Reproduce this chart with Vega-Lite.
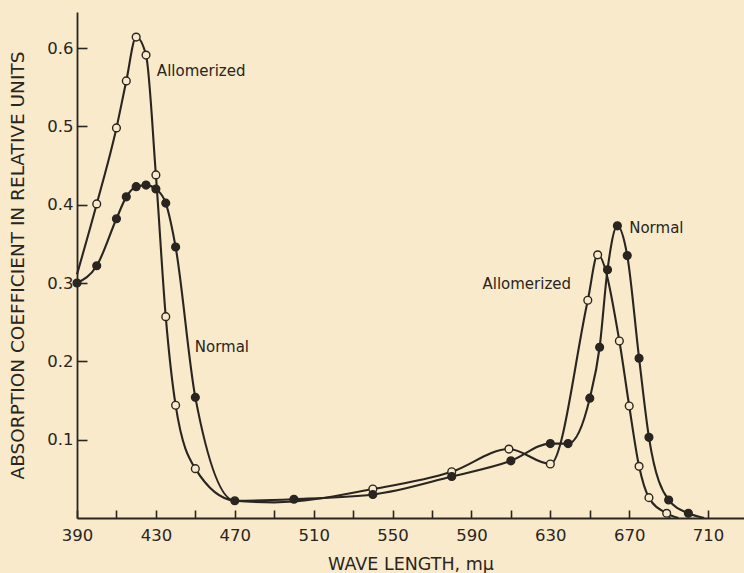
{
  "$schema": "https://vega.github.io/schema/vega-lite/v6.json",
  "width": 667,
  "height": 506,
  "autosize": {"type": "none"},
  "padding": {"left": 77, "top": 12, "right": 0, "bottom": 55},
  "background": "#f8eacb",
  "config": {
    "view": {"stroke": null},
    "font": "DejaVu Sans",
    "axis": {
      "grid": false,
      "domainColor": "#2a2520",
      "domainWidth": 1.8,
      "tickColor": "#2a2520",
      "tickWidth": 1.6,
      "labelColor": "#2a2520",
      "titleColor": "#2a2520",
      "labelFont": "DejaVu Sans",
      "titleFont": "DejaVu Sans",
      "labelFontSize": 16.5,
      "titleFontSize": 17.5,
      "titleFontWeight": "normal"
    }
  },
  "datasets": {
    "curves": [
      {"wl": 390, "abs": 0.311, "series": "Allomerized", "observed": false},
      {"wl": 400, "abs": 0.401, "series": "Allomerized", "observed": true},
      {"wl": 410, "abs": 0.498, "series": "Allomerized", "observed": true},
      {"wl": 415, "abs": 0.558, "series": "Allomerized", "observed": true},
      {"wl": 420, "abs": 0.614, "series": "Allomerized", "observed": true},
      {"wl": 425, "abs": 0.591, "series": "Allomerized", "observed": true},
      {"wl": 430, "abs": 0.438, "series": "Allomerized", "observed": true},
      {"wl": 435, "abs": 0.257, "series": "Allomerized", "observed": true},
      {"wl": 440, "abs": 0.144, "series": "Allomerized", "observed": true},
      {"wl": 450, "abs": 0.063, "series": "Allomerized", "observed": true},
      {"wl": 470, "abs": 0.022, "series": "Allomerized", "observed": false},
      {"wl": 490, "abs": 0.020, "series": "Allomerized", "observed": false},
      {"wl": 540, "abs": 0.037, "series": "Allomerized", "observed": true},
      {"wl": 580, "abs": 0.059, "series": "Allomerized", "observed": true},
      {"wl": 609, "abs": 0.088, "series": "Allomerized", "observed": true},
      {"wl": 630, "abs": 0.069, "series": "Allomerized", "observed": true},
      {"wl": 649, "abs": 0.278, "series": "Allomerized", "observed": true},
      {"wl": 654, "abs": 0.336, "series": "Allomerized", "observed": true},
      {"wl": 665, "abs": 0.226, "series": "Allomerized", "observed": true},
      {"wl": 670, "abs": 0.143, "series": "Allomerized", "observed": true},
      {"wl": 675, "abs": 0.066, "series": "Allomerized", "observed": true},
      {"wl": 680, "abs": 0.026, "series": "Allomerized", "observed": true},
      {"wl": 689, "abs": 0.006, "series": "Allomerized", "observed": true},
      {"wl": 695, "abs": 0.0, "series": "Allomerized", "observed": false},
      {"wl": 390, "abs": 0.300, "series": "Normal", "observed": true},
      {"wl": 400, "abs": 0.322, "series": "Normal", "observed": true},
      {"wl": 410, "abs": 0.382, "series": "Normal", "observed": true},
      {"wl": 415, "abs": 0.410, "series": "Normal", "observed": true},
      {"wl": 420, "abs": 0.423, "series": "Normal", "observed": true},
      {"wl": 425, "abs": 0.425, "series": "Normal", "observed": true},
      {"wl": 430, "abs": 0.420, "series": "Normal", "observed": true},
      {"wl": 435, "abs": 0.402, "series": "Normal", "observed": true},
      {"wl": 440, "abs": 0.346, "series": "Normal", "observed": true},
      {"wl": 450, "abs": 0.154, "series": "Normal", "observed": true},
      {"wl": 470, "abs": 0.022, "series": "Normal", "observed": true},
      {"wl": 500, "abs": 0.024, "series": "Normal", "observed": true},
      {"wl": 540, "abs": 0.030, "series": "Normal", "observed": true},
      {"wl": 580, "abs": 0.053, "series": "Normal", "observed": true},
      {"wl": 610, "abs": 0.073, "series": "Normal", "observed": true},
      {"wl": 630, "abs": 0.095, "series": "Normal", "observed": true},
      {"wl": 639, "abs": 0.095, "series": "Normal", "observed": true},
      {"wl": 650, "abs": 0.153, "series": "Normal", "observed": true},
      {"wl": 655, "abs": 0.218, "series": "Normal", "observed": true},
      {"wl": 659, "abs": 0.317, "series": "Normal", "observed": true},
      {"wl": 664, "abs": 0.373, "series": "Normal", "observed": true},
      {"wl": 669, "abs": 0.335, "series": "Normal", "observed": true},
      {"wl": 675, "abs": 0.204, "series": "Normal", "observed": true},
      {"wl": 680, "abs": 0.103, "series": "Normal", "observed": true},
      {"wl": 690, "abs": 0.023, "series": "Normal", "observed": true},
      {"wl": 700, "abs": 0.006, "series": "Normal", "observed": true},
      {"wl": 708, "abs": 0.0, "series": "Normal", "observed": false}
    ],
    "labels": [
      {"label": "Allomerized", "wl": 430.5, "abs": 0.571},
      {"label": "Allomerized", "wl": 595.6, "abs": 0.299},
      {"label": "Normal", "wl": 449.7, "abs": 0.218},
      {"label": "Normal", "wl": 670.0, "abs": 0.370}
    ]
  },
  "encoding": {
    "x": {
      "field": "wl",
      "type": "quantitative",
      "scale": {"domain": [390, 728.2], "nice": false, "zero": false},
      "axis": {
        "title": "WAVE LENGTH, mμ",
        "values": [390, 410, 430, 450, 470, 490, 510, 530, 550, 570, 590, 610, 630, 650, 670, 690, 710],
        "labelExpr": "(datum.value - 390) % 40 == 0 ? datum.label : ''",
        "tickSize": -8,
        "labelPadding": 17,
        "titlePadding": 12,
        "labelFlush": false
      }
    },
    "y": {
      "field": "abs",
      "type": "quantitative",
      "scale": {"domain": [0, 0.646], "nice": false},
      "axis": {
        "title": "ABSORPTION COEFFICIENT IN RELATIVE UNITS",
        "titleFontSize": 18.5,
        "values": [0.1, 0.2, 0.3, 0.4, 0.5, 0.6],
        "format": ".1f",
        "tickSize": -10,
        "labelPadding": 14,
        "titlePadding": 19,
        "labelFlush": false
      }
    }
  },
  "layer": [
    {
      "mark": {"type": "rule", "color": "#2a2520", "strokeWidth": 1.8},
      "encoding": {"y": {"datum": 0.646}, "x": {"datum": 390}, "x2": {"datum": 728.2}}
    },
    {
      "data": {"name": "curves"},
      "mark": {"type": "line", "interpolate": "monotone", "color": "#2a2520", "strokeWidth": 2.1},
      "encoding": {"detail": {"field": "series"}}
    },
    {
      "data": {"name": "curves"},
      "transform": [{"filter": "datum.observed"}],
      "mark": {"type": "point", "shape": "circle", "size": 60, "stroke": "#2a2520", "strokeWidth": 1.4, "opacity": 1, "filled": true},
      "encoding": {
        "fill": {
          "field": "series",
          "type": "nominal",
          "scale": {"domain": ["Allomerized", "Normal"], "range": ["#f8eacb", "#2a2520"]},
          "legend": null
        }
      }
    },
    {
      "data": {"name": "labels"},
      "mark": {"type": "text", "align": "left", "baseline": "middle", "font": "DejaVu Sans", "fontSize": 15, "color": "#2a2520"},
      "encoding": {"text": {"field": "label"}}
    }
  ]
}
